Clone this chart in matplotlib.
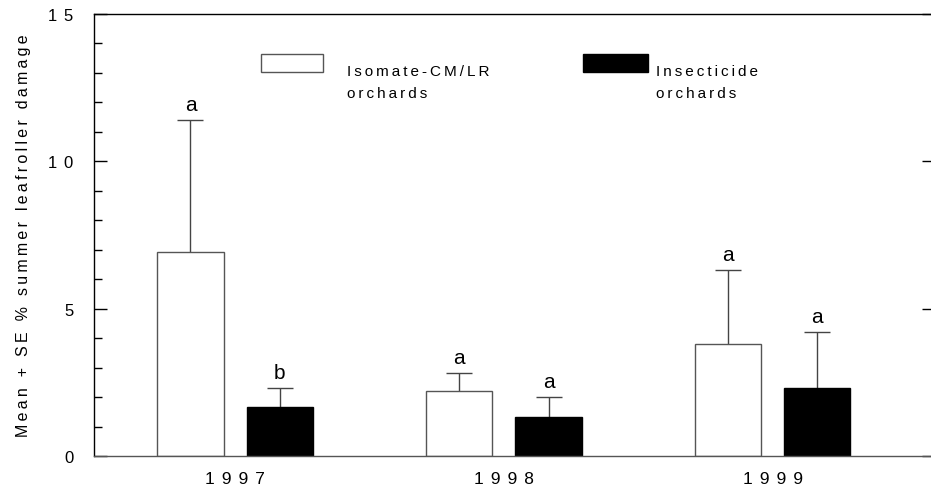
import matplotlib
matplotlib.use('Agg')
import matplotlib.pyplot as plt
from matplotlib.patches import Rectangle
from matplotlib.ticker import MultipleLocator
import numpy as np

years = ['1997', '1998', '1999']
isomate_mean = [6.92, 2.20, 3.80]
isomate_se = [4.48, 0.62, 2.51]
insect_mean = [1.66, 1.32, 2.31]
insect_se = [0.65, 0.68, 1.90]
isomate_letters = ['a', 'a', 'a']
insect_letters = ['b', 'a', 'a']

plt.rcParams['font.family'] = ['Liberation Sans', 'DejaVu Sans']


def spaced(s, gap='\u2009'):
    # the original figure uses wide letter spacing
    return '\n'.join(gap.join(line) for line in s.split('\n'))


fig = plt.figure(figsize=(9.31, 4.89), dpi=100)
ax = fig.add_axes([94/931, 32/489, 840/931, 442/489])

x = np.arange(len(years))
w = 0.246
off = 0.166
edge = '#555555'
err_col = '#444444'

for xs, mean, se, fc, ec in [(x - off, isomate_mean, isomate_se, 'white', edge),
                             (x + off, insect_mean, insect_se, 'black', 'black')]:
    mean = np.array(mean)
    se = np.array(se)
    ax.bar(xs, mean, w, color=fc, edgecolor=ec, linewidth=1.0, zorder=2)
    # upper-only error bar with a single cap
    ax.vlines(xs, mean, mean + se, color=err_col, linewidth=1.0, zorder=1)
    ax.plot(xs, mean + se, ls='none', marker='_', markersize=19,
            markeredgewidth=1.0, color=err_col, zorder=1)

for i in range(len(years)):
    ax.text(x[i] - off, isomate_mean[i] + isomate_se[i] + 0.2, isomate_letters[i],
            ha='center', va='bottom', fontsize=15)
    ax.text(x[i] + off, insect_mean[i] + insect_se[i] + 0.2, insect_letters[i],
            ha='center', va='bottom', fontsize=15)

ax.set_xlim(-0.525, 2.60)
ax.set_ylim(0, 15)
ax.set_xticks(x)
ax.set_xticklabels([spaced(y, '\u2009\u2009') for y in years], fontsize=12.5)
ax.tick_params(axis='x', length=0, pad=11)
ax.yaxis.set_major_locator(MultipleLocator(5))
ax.yaxis.set_minor_locator(MultipleLocator(1))
ax.set_yticks([0, 5, 10, 15])
ax.set_yticklabels([spaced(str(v), '\u2009\u2009') for v in [0, 5, 10, 15]])
ax.tick_params(axis='y', which='major', direction='in', length=9, width=1,
               labelsize=12, pad=15, right=True)
ax.tick_params(axis='y', which='minor', direction='in', length=6, width=1)
ax.set_ylabel(spaced('Mean + SE % summer leafroller damage'), fontsize=11.5,
              labelpad=12)

for s in ax.spines.values():
    s.set_linewidth(1.0)
ax.spines['bottom'].set_color('#555555')

# legend drawn by hand
ax.add_patch(Rectangle((0.199, 0.869), 0.074, 0.041, transform=ax.transAxes,
                       facecolor='white', edgecolor=edge, linewidth=1.0, clip_on=False))
ax.add_patch(Rectangle((0.582, 0.869), 0.0774, 0.041, transform=ax.transAxes,
                       facecolor='black', edgecolor='black', linewidth=1.0, clip_on=False))
ax.text(0.301, 0.888, spaced('Isomate-CM/LR\norchards'), transform=ax.transAxes,
        ha='left', va='top', fontsize=11, linespacing=1.75)
ax.text(0.669, 0.888, spaced('Insecticide\norchards'), transform=ax.transAxes,
        ha='left', va='top', fontsize=11, linespacing=1.75)

fig.savefig('out.png', dpi=100)
